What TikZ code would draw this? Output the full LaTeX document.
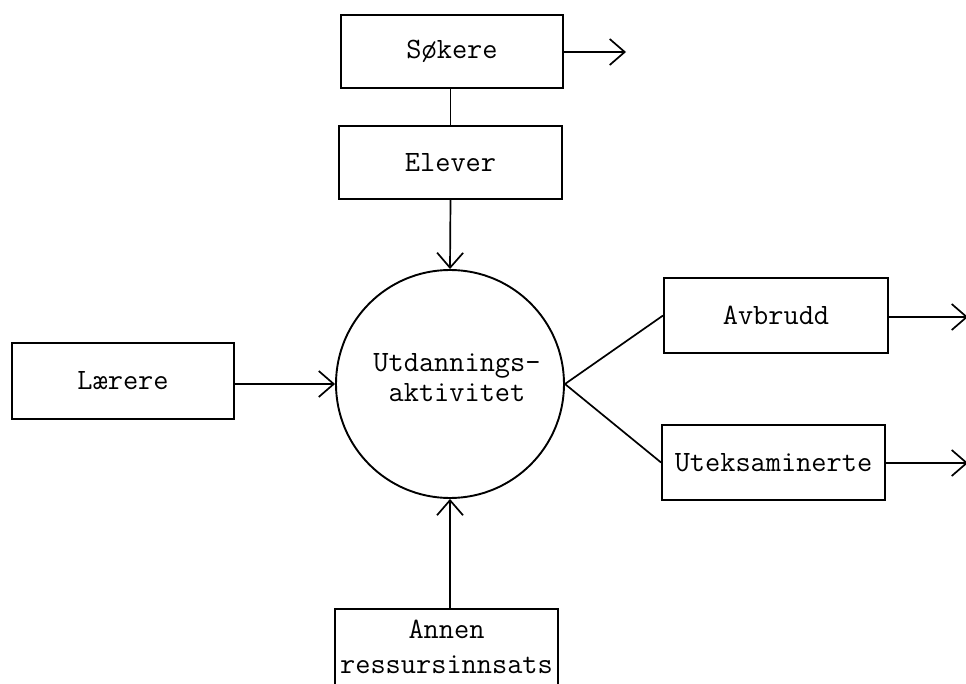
\documentclass[tikz,border=0pt]{standalone}
\usepackage{fontspec}
\setmonofont{Latin Modern Mono}
\usetikzlibrary{arrows.meta}
\begin{document}
\begin{tikzpicture}[x=1pt,y=-1pt,
  box/.style={draw,line width=1.9pt,inner sep=0pt,align=center,font=\ttfamily\fontsize{29.5}{34}\selectfont},
  conn/.style={line width=1.7pt},
  arr/.style={conn,-{Straight Barb[length=15pt,width=26pt,line width=1.7pt]}}]
\useasboundingbox (0,0) rectangle (966,684);
\node[box,minimum width=222pt,minimum height=73pt] (sok) at (452,51.5) {Søkere};
\node[box,minimum width=223pt,minimum height=73pt] (elev) at (450.5,162.5) {Elever};
\node[draw,circle,line width=1.9pt,minimum size=228pt,inner sep=0pt] (circ) at (450,384) {};
\node[align=center,font=\ttfamily\fontsize{29.5}{30}\selectfont] (circtxt) at (457,378) {Utdannings-\\aktivitet};
\node[box,minimum width=222pt,minimum height=76pt] (laer) at (123,381) {Lærere};
\node[box,minimum width=224pt,minimum height=75pt] (avb) at (776,315.5) {Avbrudd};
\node[box,minimum width=223pt,minimum height=75pt] (ute) at (773.5,462.5) {Uteksaminerte};
\node[box,minimum width=223pt,minimum height=96pt,anchor=north] (ann) at (446.5,608) {};
\node[font=\ttfamily\fontsize{29.5}{35}\selectfont,align=center,anchor=north] (anntxt) at (446.5,617) {Annen\\ressursinnsats};
\coordinate (sokend) at (626,52);
\coordinate (avbend) at (968,317);
\coordinate (uteend) at (968,463);
\draw[arr] (sok.east |- sokend) -- (sokend);
\draw[conn] (elev.north) -- (elev.north |- sok.south);
\draw[arr] (elev.south) -- (circ.north);
\draw[arr] (laer.east |- circ.west) -- (circ.west);
\draw[conn] (circ.east) -- (avb.west);
\draw[conn] (circ.east) -- (ute.west);
\draw[arr] (avb.east |- avbend) -- (avbend);
\draw[arr] (ute.east |- uteend) -- (uteend);
\draw[arr] (ann.north -| circ.south) -- (circ.south);
\end{tikzpicture}
\end{document}
